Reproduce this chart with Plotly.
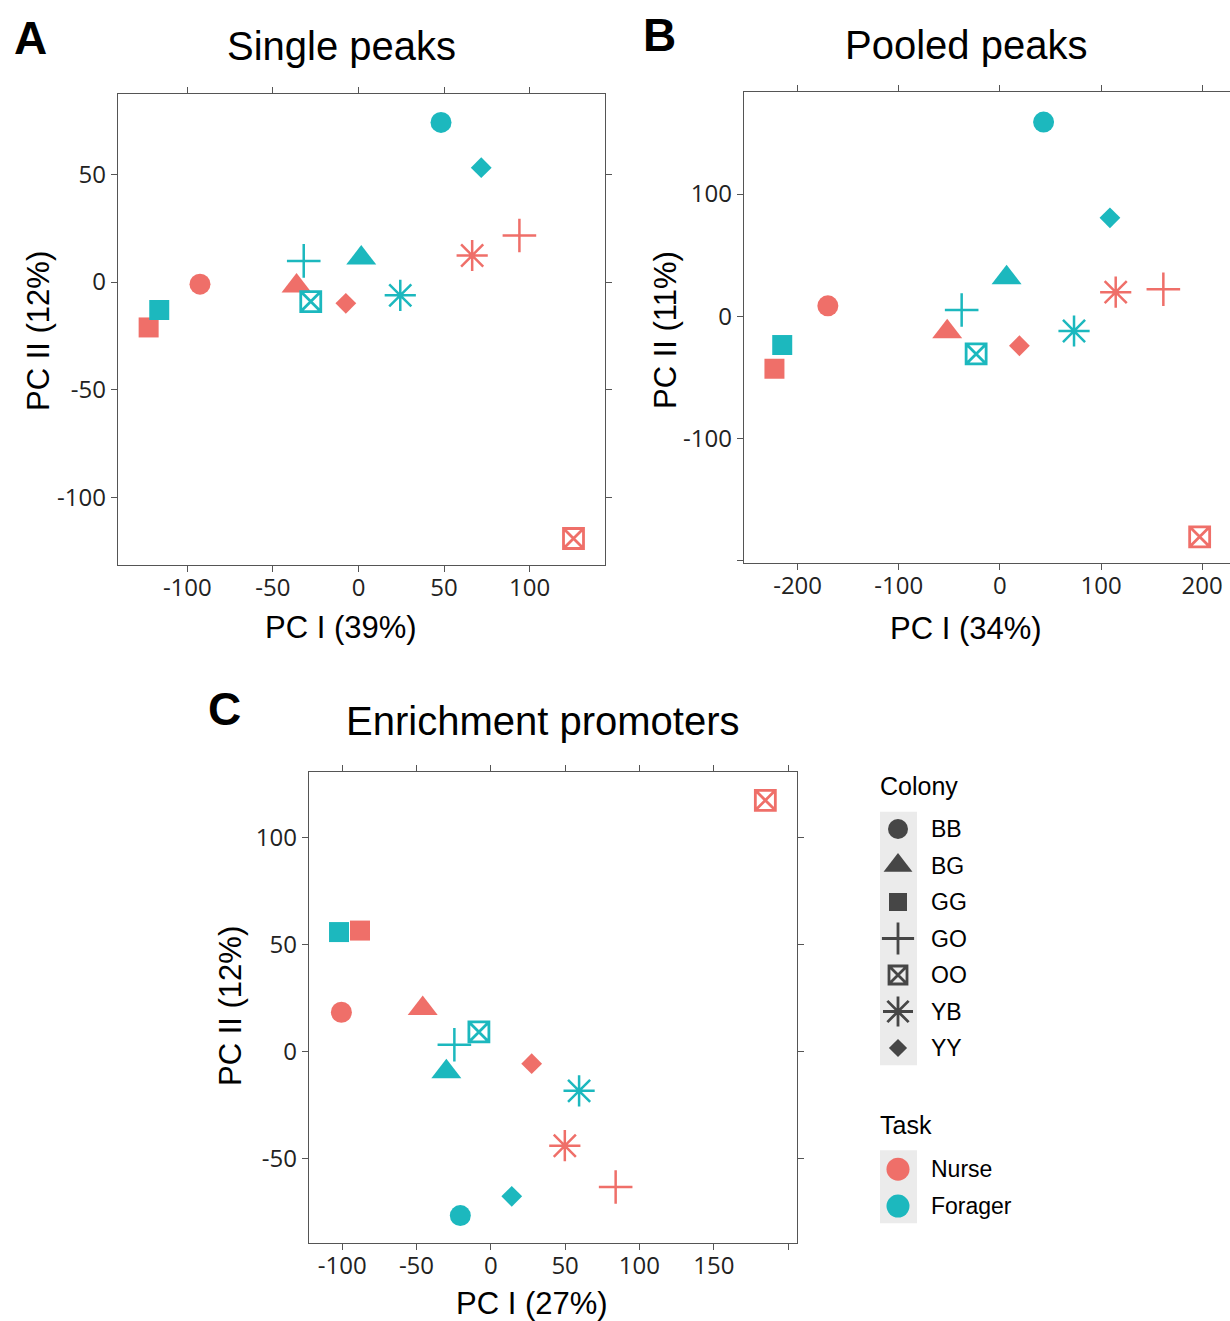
import plotly.graph_objects as go

# ---------------- data ----------------
colonies = ["BB", "BG", "GG", "GO", "OO", "YB", "YY"]
tasks = ["Nurse", "Forager"]

# Panel A: Single peaks
a_nurse_x = [-92.6, -36.2, -122.6, 94.0, 125.6, 66.4, -7.4]
a_nurse_y = [-1.0, -1.9, -21.1, 21.6, -119.1, 12.3, -9.9]
a_forager_x = [48.2, 1.6, -116.4, -32.0, -27.9, 24.4, 71.7]
a_forager_y = [74.1, 11.1, -13.0, 9.8, -9.1, -6.2, 53.1]

# Panel B: Pooled peaks
b_nurse_x = [-170.1, -52.1, -222.9, 161.6, 197.5, 114.5, 19.3]
b_nurse_y = [8.5, -12.7, -43.0, 22.1, -180.6, 19.7, -24.2]
b_forager_x = [43.2, 6.6, -215.2, -37.8, -23.5, 73.3, 108.8]
b_forager_y = [158.9, 31.5, -23.6, 5.1, -30.9, -12.1, 80.5]

# Panel C: Enrichment promoters
c_nurse_x = [-100.5, -45.8, -88.0, 84.0, 184.7, 49.8, 27.5]
c_nurse_y = [18.3, 20.0, 56.4, -63.3, 117.2, -44.0, -5.7]
c_forager_x = [-20.5, -29.9, -102.1, -24.5, -8.0, 59.4, 14.1]
c_forager_y = [-76.6, -9.5, 55.7, 3.1, 9.1, -18.4, -67.6]

panel_titles = ["Single peaks", "Pooled peaks", "Enrichment promoters"]
panel_letters = ["A", "B", "C"]
x_titles = ["PC I (39%)", "PC I (34%)", "PC I (27%)"]
y_titles = ["PC II (12%)", "PC II (11%)", "PC II (12%)"]

a_xticks = [-100, -50, 0, 50, 100]
a_xticklabels = ["-100", "-50", "0", "50", "100"]
a_yticks = [-100, -50, 0, 50]
a_yticklabels = ["-100", "-50", "0", "50"]
b_xticks = [-200, -100, 0, 100, 200]
b_xticklabels = ["-200", "-100", "0", "100", "200"]
b_yticks = [-200, -100, 0, 100]
b_yticklabels = ["", "-100", "0", "100"]
c_xticks = [-100, -50, 0, 50, 100, 150, 200]
c_xticklabels = ["-100", "-50", "0", "50", "100", "150", ""]
c_yticks = [-50, 0, 50, 100]
c_yticklabels = ["-50", "0", "50", "100"]

# ---------------- styles ----------------
W, H = 1230, 1321
task_colors = {"Nurse": "#EF6F69", "Forager": "#1CB8BE"}
sym = {
    "BB": ("circle", 21, 0),
    "BG": ("triangle-up", 26, 0),
    "GG": ("square", 20, 0),
    "GO": ("cross-thin-open", 24, 2.5),
    "OO": ("square-x-open", 20, 2.8),
    "YB": ("asterisk-open", 26, 2.5),
    "YY": ("diamond", 16, 0),
}
leg_sym = {
    "BB": ("circle", 20, 0),
    "BG": ("triangle-up", 25, 0),
    "GG": ("square", 18, 0),
    "GO": ("cross-thin-open", 23, 2.8),
    "OO": ("square-x-open", 18, 2.8),
    "YB": ("asterisk-open", 25, 2.8),
    "YY": ("diamond", 14, 0),
}

fig = go.Figure()

panels = [
    ("x", "y", {"Nurse": (a_nurse_x, a_nurse_y), "Forager": (a_forager_x, a_forager_y)}),
    ("x2", "y2", {"Nurse": (b_nurse_x, b_nurse_y), "Forager": (b_forager_x, b_forager_y)}),
    ("x3", "y3", {"Nurse": (c_nurse_x, c_nurse_y), "Forager": (c_forager_x, c_forager_y)}),
]
for xa, ya, dat in panels:
    for t in tasks:
        xs, ys = dat[t]
        col = task_colors[t]
        fig.add_trace(go.Scatter(
            x=xs, y=ys, xaxis=xa, yaxis=ya, mode="markers",
            text=colonies, name=t, showlegend=False,
            marker=dict(
                color=col,
                symbol=[sym[c][0] for c in colonies],
                size=[sym[c][1] for c in colonies],
                line=dict(color=col, width=[sym[c][2] for c in colonies]),
                opacity=1,
            ),
        ))

# ---------------- manual legend (on its own hidden axes) ----------------
leg_row = 36.5
task_offset = 9.32
fig.add_trace(go.Scatter(
    x=[28] * len(colonies), y=list(range(len(colonies))), xaxis="x4", yaxis="y4",
    mode="markers", showlegend=False, hoverinfo="skip",
    marker=dict(color="black",
                symbol=[leg_sym[c][0] for c in colonies],
                size=[leg_sym[c][1] for c in colonies],
                line=dict(color="black", width=[leg_sym[c][2] for c in colonies])),
))
fig.add_trace(go.Scatter(
    x=[28] * len(tasks), y=[task_offset + i * 1.01 for i in range(len(tasks))],
    xaxis="x4", yaxis="y4", mode="markers", showlegend=False, hoverinfo="skip",
    marker=dict(color=[task_colors[t] for t in tasks], size=23, symbol="circle"),
))

axcol = "#555555"
tickfont = dict(family="Open Sans", size=24, color="#222222")
base = dict(showline=True, linecolor=axcol, linewidth=1.4, ticks="outside", ticklen=6,
            tickwidth=1.4, tickcolor=axcol, showgrid=False, zeroline=False,
            tickfont=tickfont, mirror="ticks")
xbase = dict(base, ticklabelstandoff=-5)

def dx(p0, p1):
    return [p0 / W, min(p1 / W, 1.0)]

def dy(top, bottom):
    return [1 - bottom / H, 1 - top / H]

fig.update_layout(
    width=W, height=H, margin=dict(l=0, r=0, t=0, b=0),
    paper_bgcolor="white", plot_bgcolor="white", showlegend=False,
    xaxis=dict(xbase, domain=dx(118, 605), range=[-140.5, 144], tickvals=a_xticks,
               ticktext=a_xticklabels, anchor="y"),
    yaxis=dict(base, domain=dy(94, 565), range=[-131.4, 87.3], tickvals=a_yticks,
               ticktext=a_yticklabels, anchor="x"),
    xaxis2=dict(xbase, domain=dx(744, 1230), range=[-253, 227.5], tickvals=b_xticks,
                ticktext=b_xticklabels, anchor="y2"),
    yaxis2=dict(base, domain=dy(92, 563), range=[-202, 183.5], tickvals=b_yticks,
                ticktext=b_yticklabels, anchor="x2", mirror=False),
    xaxis3=dict(xbase, domain=dx(309, 797), range=[-122.3, 206], tickvals=c_xticks,
                ticktext=c_xticklabels, anchor="y3"),
    yaxis3=dict(base, domain=dy(772, 1243), range=[-89.4, 130.4], tickvals=c_yticks,
                ticktext=c_yticklabels, anchor="x3"),
    xaxis4=dict(domain=dx(870, 1060), range=[0, 190], visible=False, anchor="y4"),
    yaxis4=dict(domain=dy(770, 1225), range=[(1225 - 829) / leg_row, (770 - 829) / leg_row],
                visible=False, anchor="x4"),
)

# legend backgrounds
fig.add_shape(type="rect", xref="x4", yref="y4", x0=10, x1=47, y0=-0.47, y1=len(colonies) - 0.53,
              fillcolor="#EBEBEB", line=dict(width=0), layer="below")
fig.add_shape(type="rect", xref="x4", yref="y4", x0=10, x1=47, y0=task_offset - 0.52,
              y1=task_offset + 1.01 + 0.47, fillcolor="#EBEBEB", line=dict(width=0), layer="below")

ann = []
title_font = dict(family="Liberation Sans, Arial", size=40, color="black")
letter_font = dict(family="Liberation Sans, Arial", size=46, color="black")
axt_font = dict(family="Liberation Sans, Arial", size=31, color="black")
leg_font = dict(family="Liberation Sans, Arial", size=23, color="black")
legt_font = dict(family="Liberation Sans, Arial", size=25, color="black")

title_pos = [(341, 46), (966, 45), (542, 721)]
letter_pos = [(30, 38), (659, 35), (224, 709)]
xt_pos = [(341, 627), (966, 628), (532, 1303)]
yt_pos = [(38, 331), (665, 330), (230, 1006)]
for i in range(3):
    ann.append(dict(text=panel_titles[i], x=title_pos[i][0] / W, y=1 - title_pos[i][1] / H,
                    xref="paper", yref="paper", showarrow=False, xanchor="center", yanchor="middle",
                    font=title_font))
    ann.append(dict(text="<b>%s</b>" % panel_letters[i], x=letter_pos[i][0] / W, y=1 - letter_pos[i][1] / H,
                    xref="paper", yref="paper", showarrow=False, xanchor="center", yanchor="middle",
                    font=letter_font))
    ann.append(dict(text=x_titles[i], x=xt_pos[i][0] / W, y=1 - xt_pos[i][1] / H,
                    xref="paper", yref="paper", showarrow=False, xanchor="center", yanchor="middle",
                    font=axt_font))
    ann.append(dict(text=y_titles[i], x=yt_pos[i][0] / W, y=1 - yt_pos[i][1] / H,
                    xref="paper", yref="paper", showarrow=False, xanchor="center", yanchor="middle",
                    textangle=-90, font=axt_font))

# legend text
ann.append(dict(text="Colony", x=8, y=(786 - 829) / leg_row, xref="x4", yref="y4", showarrow=False,
                xanchor="left", yanchor="middle", font=legt_font))
for i, c in enumerate(colonies):
    ann.append(dict(text=c, x=59, y=i, xref="x4", yref="y4", showarrow=False,
                    xanchor="left", yanchor="middle", font=leg_font))
ann.append(dict(text="Task", x=8, y=(1125 - 829) / leg_row, xref="x4", yref="y4", showarrow=False,
                xanchor="left", yanchor="middle", font=legt_font))
for i, t in enumerate(tasks):
    ann.append(dict(text=t, x=59, y=task_offset + i * 1.01, xref="x4", yref="y4", showarrow=False,
                    xanchor="left", yanchor="middle", font=leg_font))

fig.update_layout(annotations=ann)
fig.write_html("out.html")
